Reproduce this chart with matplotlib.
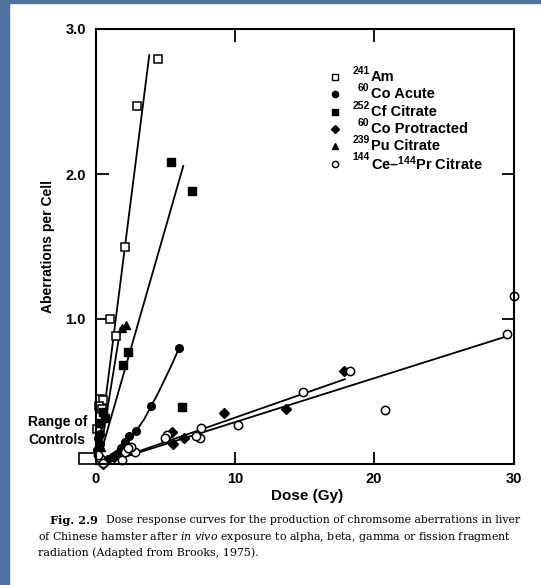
import matplotlib.pyplot as plt
from matplotlib.patches import Rectangle

plt.rcParams['font.family'] = ['Liberation Sans', 'DejaVu Sans']
plt.rcParams['font.weight'] = 'bold'
plt.rcParams['mathtext.fontset'] = 'custom'
plt.rcParams['mathtext.rm'] = 'Liberation Sans:bold'
plt.rcParams['mathtext.bf'] = 'Liberation Sans:bold'
plt.rcParams['mathtext.it'] = 'DejaVu Serif:style=italic:weight=normal'

W, H = 541, 585

# ======================
# DATA
# ======================
am_dose = [4.5, 3.0, 2.15, 1.04, 1.45, 0.3, 0.55, 0.25, 0.5, 0.1]
am_ab = [2.79, 2.47, 1.50, 1.00, 0.88, 0.45, 0.44, 0.40, 0.38, 0.24]
am_fit_dose = [0.2, 3.86]
am_fit_ab = [0.05, 2.82]

co_acute_dose = [6.0, 3.96, 2.92, 2.43, 2.1, 1.86, 0.18, 0.32, 0.1, 0.32]
co_acute_ab = [0.80, 0.40, 0.23, 0.19, 0.15, 0.11, 0.18, 0.14, 0.10, 0.21]
co_acute_fit_dose = [0.55, 1.5, 2.5, 3.0, 3.5, 4.0, 4.5, 5.0, 5.5, 6.0]
co_acute_fit_ab = [0.03, 0.09, 0.18, 0.24, 0.31, 0.40, 0.49, 0.59, 0.69, 0.80]

cf_dose = [5.45, 6.96, 6.2, 2.36, 2.0, 0.32, 0.68, 0.57]
cf_ab = [2.08, 1.88, 0.39, 0.77, 0.68, 0.28, 0.32, 0.36]
cf_fit_dose = [0.4, 6.3]
cf_fit_ab = [0.08, 2.055]

co_prot_dose = [17.8, 13.7, 9.2, 6.35, 5.47, 5.58, 0.8, 1.3, 1.64, 2.0, 0.55]
co_prot_ab = [0.64, 0.38, 0.35, 0.18, 0.22, 0.14, 0.03, 0.05, 0.07, 0.09, 0.0]
co_prot_fit_dose = [0.5, 17.9]
co_prot_fit_ab = [0.0, 0.585]

pu_dose = [1.88, 2.2, 0.4]
pu_ab = [0.94, 0.96, 0.12]
pu_fit_dose = [0.3, 1.8]
pu_fit_ab = [0.05, 0.94]

ce_dose = [30.0, 29.5, 18.3, 14.9, 20.8, 10.25, 7.55, 7.5, 5.1, 5.0, 2.8,
           2.55, 2.12, 2.36, 1.88, 0.32, 0.56, 0.2, 7.2]
ce_ab = [1.16, 0.90, 0.64, 0.50, 0.37, 0.27, 0.245, 0.18, 0.20, 0.18, 0.08,
         0.12, 0.085, 0.11, 0.03, 0.04, 0.005, 0.06, 0.19]
ce_fit_dose = [0.5, 29.5]
ce_fit_ab = [0.0, 0.88]

x_ticks = [0, 10, 20, 30]
y_ticks = [1.0, 2.0, 3.0]

legend_sup = ['241', '60', '252', '60', '239', '144']
legend_main = ['Am', 'Co Acute', 'Cf Citrate', 'Co Protracted', 'Pu Citrate',
               'Ce\u2013$^{144}$Pr Citrate']
legend_marker = ['s', 'o', 's', 'D', '^', 'o']
legend_fill = ['none', 'black', 'black', 'black', 'black', 'none']

caption_1 = 'Dose response curves for the production of chromsome aberrations in liver'
caption_2 = 'of Chinese hamster after $\\mathit{in\\ vivo}$ exposure to alpha, beta, gamma or fission fragment'
caption_3 = 'radiation (Adapted from Brooks, 1975).'


def fx(px):
    return px / W


def fy(py):
    return 1 - py / H


fig = plt.figure(figsize=(W / 100, H / 100), dpi=100, facecolor='white')

# slide background strips
fig.patches.append(Rectangle((0, 0), fx(9), 1, transform=fig.transFigure,
                             color='#4e71a0', zorder=0))
fig.patches.append(Rectangle((0, fy(3)), 1, 3 / H, transform=fig.transFigure,
                             color='#4e71a0', zorder=0))

ax = fig.add_axes([fx(95.5), fy(464), (513.5 - 95.5) / W, (464 - 29) / H])
ax.set_xlim(0, 30)
ax.set_ylim(0, 3.0)

ms = 5.5
mew = 1.1
lw = 1.3
ax.plot(am_fit_dose, am_fit_ab, color='black', lw=lw)
ax.plot(cf_fit_dose, cf_fit_ab, color='black', lw=lw)
ax.plot(pu_fit_dose, pu_fit_ab, color='black', lw=lw)
ax.plot(co_acute_fit_dose, co_acute_fit_ab, color='black', lw=lw)
ax.plot(co_prot_fit_dose, co_prot_fit_ab, color='black', lw=lw)
ax.plot(ce_fit_dose, ce_fit_ab, color='black', lw=lw)

ax.plot(am_dose, am_ab, 's', ms=ms, mfc='white', mec='black', mew=mew, clip_on=False)
ax.plot(co_acute_dose, co_acute_ab, 'o', ms=ms, color='black', clip_on=False)
ax.plot(cf_dose, cf_ab, 's', ms=ms, color='black', clip_on=False)
ax.plot(co_prot_dose, co_prot_ab, 'D', ms=ms - 0.5, color='black', clip_on=False)
ax.plot(pu_dose, pu_ab, '^', ms=ms, color='black', clip_on=False)
ax.plot(ce_dose, ce_ab, 'o', ms=ms + 0.5, mfc='white', mec='black', mew=mew, clip_on=False)

for s in ax.spines.values():
    s.set_linewidth(1.5)

ax.set_xticks(x_ticks)
ax.set_xticklabels([str(t) for t in x_ticks])
ax.set_yticks(y_ticks)
ax.set_yticklabels(['%.1f' % t for t in y_ticks])
ax.tick_params(direction='in', length=9, width=1.3, top=True, right=True,
               labelsize=10.5)
ax.tick_params(axis='x', pad=6)
ax.tick_params(axis='y', pad=7)

fig.text(fx(307), fy(496), 'Dose (Gy)', fontsize=11, ha='center', va='center')
fig.text(fx(48), fy(246), 'Aberrations per Cell', fontsize=10, rotation=90,
         ha='center', va='center')

# Range of controls box
ax.add_patch(Rectangle((-1.2, 0), 1.2, 0.076, fill=False, lw=1.2,
                       clip_on=False))
fig.text(fx(28), fy(422), 'Range of', fontsize=10, ha='left', va='center')
fig.text(fx(28), fy(440), 'Controls', fontsize=10, ha='left', va='center')
ax.annotate('', xy=(-1.2, 0.04), xycoords='data',
            xytext=(fx(64), fy(447)), textcoords='figure fraction',
            arrowprops=dict(arrowstyle='-', lw=1.0, color='black',
                            connectionstyle='arc3,rad=0.4'))

# legend
for i in range(len(legend_main)):
    py = 77 + i * 17.3
    fig.lines.append(plt.Line2D([fx(335)], [fy(py)], marker=legend_marker[i],
                                ms=4.5, mfc=legend_fill[i], mec='black',
                                mew=1.0, linestyle='none',
                                transform=fig.transFigure))
    fig.text(fx(369.5), fy(py - 6), legend_sup[i], fontsize=7.5,
             ha='right', va='center')
    fig.text(fx(371), fy(py), legend_main[i], fontsize=10.5,
             ha='left', va='center')

# caption
fig.text(fx(50), fy(520), 'Fig. 2.9', fontsize=8.2, family='DejaVu Serif',
         weight='bold', va='center')
fig.text(fx(106), fy(520), caption_1, fontsize=7.8, family='DejaVu Serif',
         weight='normal', va='center')
fig.text(fx(38), fy(537), caption_2, fontsize=7.95, family='DejaVu Serif',
         weight='normal', va='center')
fig.text(fx(38), fy(553), caption_3, fontsize=7.95, family='DejaVu Serif',
         weight='normal', va='center')

fig.savefig('out.png', dpi=100, facecolor='white')
